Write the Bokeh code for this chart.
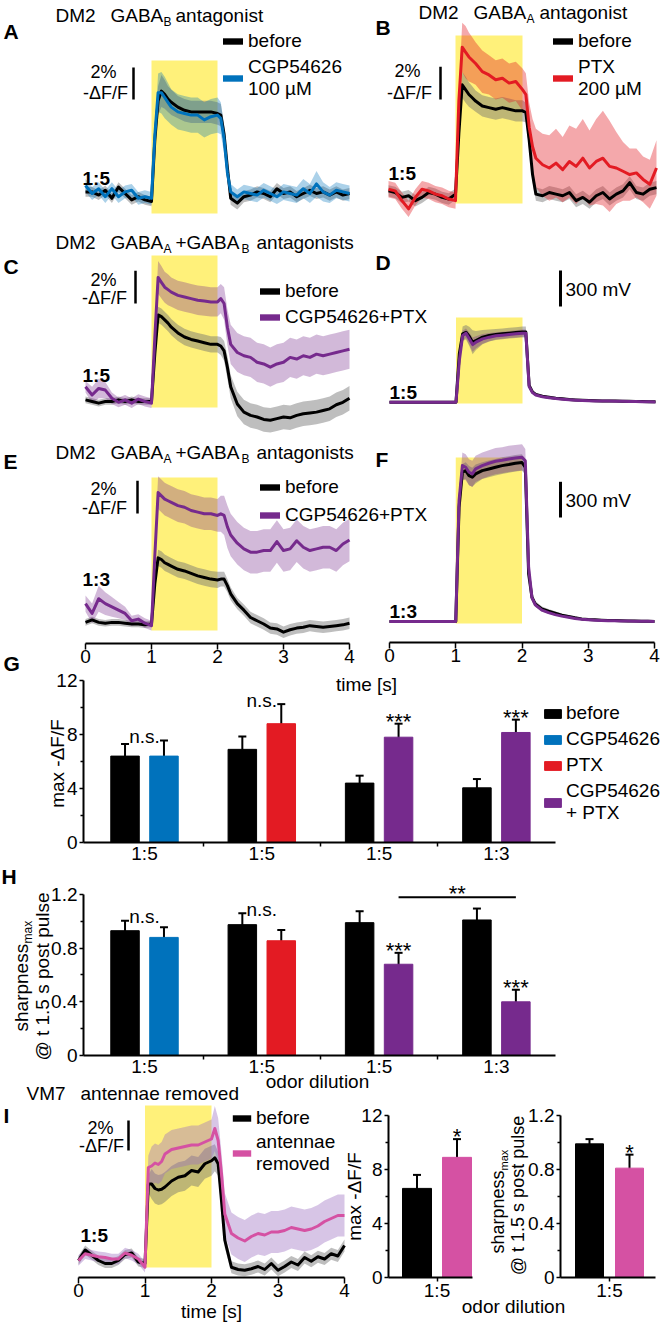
import math
from bokeh.plotting import figure
from bokeh.models import (Range1d, LinearAxis, FixedTicker, Label, Legend, LegendItem,
                          Whisker, TeeHead, ColumnDataSource)
from bokeh.embed import file_html
from bokeh.resources import INLINE

# ---------------------------------------------------------------- data
T = [0.0, 0.1, 0.2, 0.3, 0.4, 0.5, 0.6, 0.7, 0.8, 0.9, 1.0,
     1.05, 1.1, 1.15, 1.2, 1.25,
     1.3, 1.4, 1.5, 1.6, 1.7, 1.8, 1.9, 2.0,
     2.05, 2.1, 2.15, 2.2,
     2.3, 2.4, 2.5, 2.6, 2.7, 2.8, 2.9, 3.0, 3.1, 3.2, 3.3, 3.4, 3.5, 3.6, 3.7, 3.8, 3.9, 4.0]
STIM = [1.0, 2.0]            # odor pulse [s]
SCALE_DFF = 2.0              # scale bar, % -dF/F
SCALE_MV = 300               # scale bar, mV

# A: DM2, GABA_B antagonist (-dF/F, %)
A_BEFORE = [0.1, 0.1, -0.1, 0.2, -0.3, 0.4, 0.0, -0.4, -0.2, -0.4, -0.5,
            3.3, 5.8, 6.4, 6.2, 5.9,
            5.7, 5.4, 5.2, 5.1, 5.1, 5.1, 5.1, 5.0,
            4.9, 3.7, 1.6, -0.3,
            -0.6, -0.2, -0.1, 0.1, 0.0, -0.2, 0.3, 0.0, 0.1, -0.2, 0.0, 0.2, 0.0, 0.1, -0.1, 0.1, -0.1, 0.0]
A_BEFORE_SEM = [0.3, 0.3, 0.3, 0.3, 0.3, 0.3, 0.3, 0.3, 0.3, 0.3, 0.3,
                0.3, 0.9, 1.0, 0.9, 0.8,
                0.8, 0.7, 0.7, 0.7, 0.7, 0.7, 0.7, 0.7,
                0.7, 0.6, 0.5, 0.4,
                0.4, 0.35, 0.35, 0.35, 0.35, 0.35, 0.35, 0.35, 0.35, 0.35, 0.35, 0.35, 0.35, 0.35, 0.35, 0.35, 0.35, 0.35]
A_CGP = [0.5, 0.0, 0.3, -0.2, 0.3, -0.2, 0.1, 0.2, -0.3, -0.2, -0.3,
         3.6, 6.3, 6.3, 6.0, 5.7,
         5.4, 5.1, 5.0, 4.9, 4.9, 4.6, 4.8, 4.9,
         4.7, 3.4, 1.3, 0.1,
         -0.2, 0.1, 0.0, -0.1, 0.2, 0.0, -0.2, 0.1, 0.0, -0.1, 0.3, 0.0, 0.6, 0.1, -0.1, 0.2, 0.1, 0.0]
A_CGP_SEM = [0.4, 0.4, 0.4, 0.4, 0.4, 0.4, 0.4, 0.4, 0.4, 0.4, 0.4,
             0.4, 1.2, 1.3, 1.3, 1.2,
             1.1, 1.1, 1.1, 1.1, 1.1, 1.1, 1.1, 1.1,
             1.0, 0.9, 0.6, 0.5,
             0.45, 0.45, 0.45, 0.45, 0.45, 0.45, 0.45, 0.5, 0.5, 0.5, 0.6, 0.6, 0.8, 0.6, 0.5, 0.5, 0.5, 0.5]

# B: DM2, GABA_A antagonist
B_BEFORE = [0.1, 0.0, -0.3, -0.2, -0.5, -0.3, 0.0, -0.1, -0.3, -0.4, -0.1,
            3.6, 6.6, 6.3, 6.0, 5.8,
            5.6, 5.3, 5.2, 5.1, 5.2, 5.1, 5.0, 5.0,
            4.9, 3.2, 1.1, -0.1,
            -0.2, 0.0, -0.1, -0.2, 0.0, -0.5, -0.3, -0.6, -0.2, 0.0, -0.4, -0.1, 0.1, 0.6, 0.0, -0.1, 0.2, 0.3]
B_BEFORE_SEM = [0.35, 0.35, 0.35, 0.35, 0.35, 0.35, 0.35, 0.35, 0.35, 0.35, 0.35,
                0.35, 0.8, 0.8, 0.75, 0.7,
                0.65, 0.65, 0.65, 0.65, 0.65, 0.65, 0.65, 0.65,
                0.6, 0.5, 0.45, 0.4,
                0.4, 0.4, 0.4, 0.4, 0.4, 0.4, 0.4, 0.4, 0.4, 0.4, 0.4, 0.4, 0.4, 0.4, 0.4, 0.4, 0.4, 0.4]
B_PTX = [0.2, 0.1, -0.5, -1.0, -0.3, 0.2, 0.1, -0.1, -0.2, -0.4, -0.5,
         5.6, 8.9, 8.6, 8.3, 8.1,
         7.9, 7.4, 7.2, 6.9, 7.0, 6.7, 6.8, 6.3,
         6.0, 4.0, 2.8, 2.1,
         1.7, 1.5, 1.8, 1.4, 1.9, 1.6, 2.1, 1.5, 1.9, 2.1, 1.6, 1.5, 1.3, 1.1, 1.2, 0.8, 0.5, 1.5]
B_PTX_SEM = [0.5, 0.5, 0.5, 0.5, 0.5, 0.5, 0.5, 0.5, 0.5, 0.5, 0.5,
             0.6, 1.5, 1.6, 1.5, 1.4,
             1.3, 1.3, 1.2, 1.2, 1.2, 1.2, 1.2, 1.3,
             1.3, 1.5, 1.7, 1.8,
             1.9, 2.0, 2.1, 2.0, 2.2, 2.3, 2.4, 2.3, 2.6, 2.9, 2.8, 2.2, 1.8, 1.6, 1.5, 1.4, 1.5, 1.7]

# C: DM2, GABA_A + GABA_B antagonists, 1:5
C_BEFORE = [0.1, 0.0, -0.1, 0.0, 0.0, 0.1, 0.0, 0.1, 0.0, 0.0, 0.0,
            2.9, 5.3, 5.2, 5.0, 4.8,
            4.55, 4.2, 3.95, 3.8, 3.7, 3.6, 3.5, 3.5,
            3.4, 3.1, 2.1, 0.9,
            -0.15, -0.65, -0.85, -0.95, -1.1, -1.15, -1.05, -0.95, -1.0, -0.85, -0.75, -0.7, -0.65, -0.55, -0.45, -0.2, -0.05, 0.2]
C_BEFORE_SEM = [0.2, 0.2, 0.2, 0.2, 0.2, 0.2, 0.2, 0.2, 0.2, 0.2, 0.2,
                0.3, 0.5, 0.5, 0.5, 0.5,
                0.5, 0.5, 0.5, 0.5, 0.5, 0.5, 0.5, 0.5,
                0.55, 0.6, 0.7, 0.7,
                0.75, 0.75, 0.75, 0.75, 0.75, 0.75, 0.75, 0.75, 0.75, 0.75, 0.75, 0.75, 0.75, 0.75, 0.75, 0.75, 0.75, 0.75]
C_CGP_PTX = [0.9, 0.4, 0.8, 0.7, 0.2, -0.05, 0.1, -0.1, 0.15, 0.0, -0.1,
             3.9, 7.6, 7.3, 7.0, 6.85,
             6.7, 6.5, 6.4, 6.3, 6.2, 6.15, 6.1, 6.1,
             6.3, 6.0, 4.55, 3.5,
             3.0, 2.8, 2.7, 2.4, 2.3, 2.1, 2.3, 2.4, 2.7, 2.6, 2.8, 2.7, 2.9, 2.8, 2.9, 3.0, 3.1, 3.2]
C_CGP_PTX_SEM = [0.35, 0.5, 0.6, 0.5, 0.35, 0.3, 0.3, 0.3, 0.3, 0.3, 0.3,
                 0.5, 1.0, 1.0, 0.95, 0.95,
                 0.9, 0.9, 0.9, 0.9, 0.9, 0.9, 0.9, 0.9,
                 0.9, 1.0, 1.1, 1.2,
                 1.2, 1.2, 1.2, 1.2, 1.2, 1.2, 1.2, 1.2, 1.2, 1.2, 1.2, 1.2, 1.2, 1.2, 1.2, 1.2, 1.2, 1.2]

# D: (mV), 1:5
D_BEFORE = [0, 0, 0, 0, 0, 0, 0, 0, 0, 0, 0,
            403, 570, 583, 548, 500,
            514, 542, 556, 564, 570, 575, 580, 585,
            585, 140, 85, 65,
            50, 42, 33, 28, 22, 19, 17, 14, 12, 11, 10, 9, 8, 7, 6, 5, 4, 3]
D_BEFORE_SEM = [5, 5, 5, 5, 5, 5, 5, 5, 5, 5, 5,
                40, 60, 60, 80, 100,
                80, 60, 50, 45, 45, 45, 45, 45,
                45, 20, 12, 10,
                8, 8, 8, 8, 8, 8, 8, 8, 8, 8, 8, 8, 8, 8, 8, 8, 8, 8]
D_CGP_PTX = [0, 0, 0, 0, 0, 0, 0, 0, 0, 0, 0,
             347, 556, 575, 528, 480,
             500, 528, 542, 553, 558, 564, 570, 575,
             575, 130, 80, 60,
             45, 37, 30, 25, 20, 17, 15, 13, 11, 10, 9, 8, 7, 6, 5, 4, 3, 2]
D_CGP_PTX_SEM = [5, 5, 5, 5, 5, 5, 5, 5, 5, 5, 5,
                 30, 40, 40, 50, 60,
                 50, 40, 35, 30, 30, 30, 30, 30,
                 30, 15, 10, 8,
                 6, 6, 6, 6, 6, 6, 6, 6, 6, 6, 6, 6, 6, 6, 6, 6, 6, 6]

# E: DM2, GABA_A + GABA_B antagonists, 1:3
E_BEFORE = [0.05, 0.2, 0.05, 0.0, 0.05, 0.05, 0.0, -0.05, -0.05, -0.1, -0.05,
            2.4, 4.0, 3.9, 3.7, 3.6,
            3.5, 3.3, 3.2, 3.05, 2.9, 2.8, 2.7, 2.65,
            2.7, 2.7, 2.3, 1.8,
            1.2, 0.8, 0.35, 0.15, -0.05, -0.3, -0.35, -0.55, -0.4, -0.3, -0.25, -0.15, -0.2, -0.25, -0.2, -0.15, -0.1, 0.0]
E_BEFORE_SEM = [0.2, 0.2, 0.2, 0.2, 0.2, 0.2, 0.2, 0.2, 0.2, 0.2, 0.2,
                0.3, 0.5, 0.5, 0.5, 0.5,
                0.5, 0.5, 0.5, 0.5, 0.5, 0.5, 0.5, 0.5,
                0.45, 0.45, 0.4, 0.4,
                0.35, 0.35, 0.35, 0.35, 0.35, 0.35, 0.35, 0.35, 0.35, 0.35, 0.35, 0.35, 0.35, 0.35, 0.35, 0.35, 0.35, 0.35]
E_CGP_PTX = [1.2, 0.6, 1.5, 1.2, 1.0, 0.8, 0.6, 0.15, 0.25, 0.0, -0.15,
             4.1, 8.0, 7.8, 7.6, 7.5,
             7.4, 7.2, 7.1, 6.9, 6.8, 6.7, 6.7, 6.6,
             6.7, 6.6, 5.9, 5.4,
             4.9, 4.55, 4.35, 4.35, 4.45, 4.45, 5.0, 4.45, 4.55, 5.05, 4.65, 4.45, 4.55, 4.65, 4.65, 4.45, 4.85, 5.1]
E_CGP_PTX_SEM = [0.5, 0.6, 0.8, 0.7, 0.6, 0.5, 0.4, 0.3, 0.3, 0.3, 0.3,
                 0.6, 1.0, 1.0, 1.0, 1.0,
                 1.0, 1.0, 1.0, 1.0, 1.0, 1.0, 1.0, 1.0,
                 1.1, 1.2, 1.3, 1.3,
                 1.3, 1.3, 1.3, 1.3, 1.3, 1.3, 1.3, 1.3, 1.3, 1.3, 1.3, 1.3, 1.3, 1.3, 1.3, 1.3, 1.3, 1.3]

# F: (mV), 1:3
F_BEFORE = [0, 0, 0, 0, 0, 0, 0, 0, 0, 0, 0,
            960, 1254, 1268, 1226, 1212,
            1240, 1268, 1282, 1296, 1310, 1319, 1330, 1336,
            1296, 400, 204, 148,
            106, 87, 70, 53, 42, 31, 22, 17, 14, 11, 9, 8, 6, 5, 4, 3, 2, 1]
F_BEFORE_SEM = [5, 5, 5, 5, 5, 5, 5, 5, 5, 5, 5,
                60, 70, 70, 80, 80,
                80, 70, 70, 70, 70, 70, 70, 70,
                60, 40, 30, 25,
                20, 18, 16, 14, 12, 10, 8, 7, 6, 5, 5, 4, 4, 4, 3, 3, 3, 3]
F_CGP_PTX = [0, 0, 0, 0, 0, 0, 0, 0, 0, 0, 0,
             1016, 1310, 1296, 1254, 1240,
             1282, 1310, 1330, 1347, 1355, 1366, 1373, 1380,
             1350, 456, 200, 140,
             95, 75, 58, 45, 35, 25, 18, 14, 11, 9, 7, 6, 5, 4, 3, 2, 2, 1]
F_CGP_PTX_SEM = [5, 5, 5, 5, 5, 5, 5, 5, 5, 5, 5,
                 80, 110, 110, 110, 110,
                 110, 110, 110, 110, 110, 110, 110, 110,
                 100, 40, 20, 15,
                 12, 10, 8, 6, 5, 5, 4, 4, 3, 3, 3, 3, 3, 3, 3, 3, 3, 3]

# I: VM7, antennae removed
I_BEFORE = [0.0, 0.7, 0.35, 0.0, -0.2, -0.2, 0.0, 0.4, 0.5, -0.1, -0.2,
            5.1, 5.1, 4.8, 4.7, 4.75,
            4.9, 5.3, 5.55, 5.65, 6.0, 5.9, 6.45, 6.65,
            6.85, 6.45, 4.0, 1.35,
            -0.45, -0.6, -0.65, -0.55, -0.4, -0.6, -0.2, -0.65, -0.4, -0.1, -0.3, 0.2, -0.05, 0.25, 0.1, 0.45, 0.3, 1.0]
I_BEFORE_SEM = [0.3, 0.3, 0.3, 0.3, 0.3, 0.3, 0.3, 0.3, 0.3, 0.3, 0.3,
                0.6, 1.0, 1.0, 1.0, 1.0,
                1.0, 1.0, 1.0, 1.0, 1.0, 1.0, 1.0, 1.0,
                0.9, 0.8, 0.6, 0.5,
                0.4, 0.4, 0.4, 0.4, 0.4, 0.4, 0.4, 0.4, 0.4, 0.4, 0.4, 0.4, 0.4, 0.4, 0.4, 0.4, 0.4, 0.4]
I_REMOVED = [0.0, 0.45, 0.35, 0.25, 0.2, 0.1, 0.1, 0.5, 0.35, 0.1, -0.45,
             6.2, 6.3, 6.5, 6.4, 6.6,
             7.1, 7.4, 7.5, 7.6, 7.7, 7.7, 7.9, 8.1,
             8.8, 8.0, 5.8, 3.1,
             1.8, 1.5, 1.3, 1.6, 1.8, 1.7, 1.9, 1.9, 2.0, 2.2, 2.1, 2.0, 2.1, 2.3, 2.6, 2.8, 3.0, 3.0]
I_REMOVED_SEM = [0.35, 0.35, 0.35, 0.35, 0.35, 0.35, 0.35, 0.35, 0.35, 0.35, 0.35,
                 0.8, 1.3, 1.3, 1.3, 1.3,
                 1.3, 1.3, 1.3, 1.3, 1.3, 1.3, 1.3, 1.3,
                 1.5, 1.5, 1.4, 1.4,
                 1.4, 1.4, 1.4, 1.4, 1.4, 1.4, 1.4, 1.4, 1.4, 1.4, 1.4, 1.4, 1.4, 1.4, 1.4, 1.4, 1.4, 1.4]

# G / H bar charts
GROUP_LABELS = ["1:5", "1:5", "1:5", "1:3"]
GROUP_TREAT = ["CGP54626", "PTX", "CGP54626\n+ PTX", "CGP54626\n+ PTX"]
G_BEFORE = [6.4, 6.9, 4.4, 4.05]
G_BEFORE_ERR = [0.9, 0.95, 0.55, 0.65]
G_DRUG = [6.4, 8.8, 7.8, 8.15]
G_DRUG_ERR = [1.15, 1.45, 1.0, 0.95]
G_SIG = ["n.s.", "n.s.", "***", "***"]
H_BEFORE = [0.93, 0.975, 0.99, 1.01]
H_BEFORE_ERR = [0.075, 0.085, 0.085, 0.085]
H_DRUG = [0.88, 0.855, 0.68, 0.40]
H_DRUG_ERR = [0.075, 0.08, 0.085, 0.09]
H_SIG = ["n.s.", "n.s.", "***", "***"]
H_BRACKET_SIG = "**"
H_BRACKET_LEVEL = 1.18

# I bar charts (before, antennae removed)
I_GROUP = ["1:5"]
I_MAX = [6.6, 8.9]
I_MAX_ERR = [1.0, 1.35]
I_SHARP = [0.99, 0.81]
I_SHARP_ERR = [0.035, 0.10]
I_SIG = "*"

# ---------------------------------------------------------------- style
FONT = "Liberation Sans"
BLACK = "#000000"
BLUE = "#0072BC"
RED = "#E31B23"
PURPLE = "#762A8D"
PINK = "#D551A3"
LAVENDER = "#9B6FC0"
YELLOW = "#FFF17A"
GREY = "#6E6E6E"
TREAT_COLOR = {"CGP54626": BLUE, "PTX": RED, "CGP54626\n+ PTX": PURPLE}
NAN = float("nan")
AST_SIZE = 22

W, H = 664, 1324
OX, OY = 0, 0

p = figure(width=W, height=H, x_range=Range1d(OX, OX + W), y_range=Range1d(OY + H, OY),
           output_backend="svg", toolbar_location=None, min_border=0,
           x_axis_type=None, y_axis_type=None, outline_line_color=None)

PANELS = {}


def panel(name, px0, vx, kx, py0, vy, ky):
    PANELS[name] = (px0, vx, kx, py0, vy, ky)
    xs = vx - (px0 - OX) / kx
    ys = vy - (OY + H - py0) / ky
    p.extra_x_ranges[name] = Range1d(xs, xs + W / kx)
    p.extra_y_ranges[name] = Range1d(ys, ys + H / ky)


def dx(name, px):
    px0, vx, kx, _, _, _ = PANELS[name]
    return vx + (px - px0) / kx


def dy(name, py):
    _, _, _, py0, vy, ky = PANELS[name]
    return vy + (py0 - py) / ky


def pxx(name, v):
    px0, vx, kx, _, _, _ = PANELS[name]
    return px0 + (v - vx) * kx


def pyy(name, v):
    _, _, _, py0, vy, ky = PANELS[name]
    return py0 - (v - vy) * ky


panel("A", 85, 0, 66, 193, 0, 16)
panel("B", 388, 0, 67, 192, 0, 16.33)
panel("C", 85, 0, 66, 401, 0, 16.33)
panel("D", 389, 0, 66.5, 401.7, 0, 0.12)
panel("E", 85, 0, 66, 622.7, 0, 16.33)
panel("F", 389, 0, 66.25, 621, 0, 0.119)
panel("G", 144, 1, 117.3, 842, 0, 13.5)
panel("H", 144, 1, 117.3, 1055, 0, 134.2)
panel("I", 78, 0, 66.5, 1260, 0, 15)
panel("I1", 436.5, 1, 100, 1277, 0, 13.5)
panel("I2", 609, 1, 100, 1277, 0, 135)


def lab(text, x, y, size=19, align="left", baseline="middle", bold=False, angle=0.0):
    p.add_layout(Label(x=x, y=y, text=text, text_font=FONT, text_font_size=f"{size}px",
                       text_align=align, text_baseline=baseline, angle=angle,
                       text_font_style="bold" if bold else "normal", text_color="black"))


def traces(name, stim_top, stim_bot, series):
    p.quad(left=[STIM[0]], right=[STIM[1]], top=[dy(name, stim_top)], bottom=[dy(name, stim_bot)],
           fill_color=YELLOW, line_color=None, x_range_name=name, y_range_name=name)
    for vals, sem, col, bcol, balpha in series:
        p.varea(x=T, y1=[v - s for v, s in zip(vals, sem)], y2=[v + s for v, s in zip(vals, sem)],
                fill_color=bcol, fill_alpha=balpha, x_range_name=name, y_range_name=name)
    for vals, sem, col, bcol, balpha in series:
        p.line(T, vals, line_color=col, line_width=3, line_join="round",
               x_range_name=name, y_range_name=name)


def scalebar(name, px, py_bottom, length, width=2.5):
    x = dx(name, px)
    y0 = dy(name, py_bottom)
    p.segment(x0=[x], y0=[y0], x1=[x], y1=[y0 + length], line_color="black", line_width=width,
              x_range_name=name, y_range_name=name)


def legend(items, left, top, heights, gw, gh, spacing, renderers=None):
    total = sum(heights) + spacing * (len(heights) - 1)
    bottom = top + total
    li = []
    for i, (label, color) in enumerate(items):
        if renderers is None:
            # legend-only proxy (no visible mark)
            r = p.quad(left=[NAN], right=[NAN], top=[NAN], bottom=[NAN], fill_color=color,
                       line_color=None)
        else:
            r = renderers[i]
        li.append(LegendItem(label=label, renderers=[r]))
    leg = Legend(items=li, location=(left - OX, OY + H - bottom), padding=0, margin=0,
                 spacing=spacing, glyph_width=gw, glyph_height=gh, label_standoff=3,
                 border_line_color=None, background_fill_alpha=0,
                 label_text_font=FONT, label_text_font_size="19px", label_text_color="black")
    p.add_layout(leg)


def add_axis(name, side, loc, bounds, ticks, minor=(), overrides=None, tick_out=5,
             minor_out=4, standoff=1, size=19):
    ax = LinearAxis(x_range_name=name, y_range_name=name, fixed_location=loc, bounds=bounds,
                    ticker=FixedTicker(ticks=list(ticks), minor_ticks=list(minor)))
    ax.axis_line_width = 2
    ax.axis_line_color = "black"
    ax.major_tick_line_width = 1.5
    ax.major_tick_in = 0
    ax.major_tick_out = tick_out
    ax.minor_tick_line_width = 1.5
    ax.minor_tick_in = 0
    ax.minor_tick_out = minor_out
    ax.major_label_text_font = FONT
    ax.major_label_text_font_size = f"{size}px"
    ax.major_label_text_color = "black"
    ax.major_label_standoff = standoff
    if overrides:
        ax.major_label_overrides = overrides
    p.add_layout(ax, side)


def gaba_title(y, x_dm2, x_gaba, sub1, x_sub1, rest):
    lab("DM2", x_dm2, y)
    lab("GABA", x_gaba, y)
    lab(sub1, x_sub1, y + 6, size=12)
    for text, x, is_sub in rest:
        if is_sub:
            lab(text, x, y + 6, size=12)
        else:
            lab(text, x, y)


def stars(text, x, err_top_px):
    lab(text, x, err_top_px - 2.5, size=AST_SIZE, align="center", baseline="alphabetic")


# ---------------------------------------------------------------- A
traces("A", 60, 213, [(A_BEFORE, A_BEFORE_SEM, BLACK, GREY, 0.45),
                      (A_CGP, A_CGP_SEM, BLUE, BLUE, 0.33)])
scalebar("A", 133, 99, SCALE_DFF)
lab("A", 3, 31, size=21, bold=True)
gaba_title(15, 55, 110, "B", 163, [("antagonist", 175, False)])
lab("2%", 103, 71, size=18, align="center")
lab("-ΔF/F", 105, 92, size=18, align="center")
lab("1:5", 82, 178, bold=True)
legend([("before", BLACK), ("CGP54626\n100 µM", BLUE)], 220, 29.5, [22, 44], 25, 8, 4)

# ---------------------------------------------------------------- B
traces("B", 35, 203, [(B_BEFORE, B_BEFORE_SEM, BLACK, GREY, 0.45),
                      (B_PTX, B_PTX_SEM, RED, RED, 0.38)])
scalebar("B", 440, 99, SCALE_DFF)
lab("B", 375, 27, size=21, bold=True)
gaba_title(12, 418, 473, "A", 526, [("antagonist", 539, False)])
lab("2%", 407, 70, size=18, align="center")
lab("-ΔF/F", 409, 92, size=18, align="center")
lab("1:5", 388, 173, bold=True)
legend([("before", BLACK), ("PTX\n200 µM", RED)], 550, 29.5, [22, 44], 25, 8, 4)

# ---------------------------------------------------------------- C
traces("C", 255, 407, [(C_BEFORE, C_BEFORE_SEM, BLACK, GREY, 0.45),
                       (C_CGP_PTX, C_CGP_PTX_SEM, PURPLE, PURPLE, 0.33)])
scalebar("C", 135, 303, SCALE_DFF)
lab("C", 3, 266, size=21, bold=True)
gaba_title(242, 55, 110, "A", 163, [("+GABA", 175, False), ("B", 241, True), ("antagonists", 256, False)])
lab("2%", 103, 279, size=18, align="center")
lab("-ΔF/F", 104, 297, size=18, align="center")
lab("1:5", 82, 375, bold=True)
legend([("before", BLACK), ("CGP54626+PTX", PURPLE)], 257, 280, [22, 22], 25, 8, 4)

# ---------------------------------------------------------------- D
traces("D", 317, 403, [(D_BEFORE, D_BEFORE_SEM, BLACK, GREY, 0.45),
                       (D_CGP_PTX, D_CGP_PTX_SEM, PURPLE, PURPLE, 0.33)])
scalebar("D", 560, 306, SCALE_MV, width=3)
lab("D", 375, 262, size=21, bold=True)
lab("300 mV", 565, 289)
lab("1:5", 389, 392, bold=True)

# ---------------------------------------------------------------- E
traces("E", 477, 630, [(E_BEFORE, E_BEFORE_SEM, BLACK, GREY, 0.45),
                       (E_CGP_PTX, E_CGP_PTX_SEM, PURPLE, PURPLE, 0.33)])
scalebar("E", 137, 513, SCALE_DFF)
lab("E", 3, 461, size=21, bold=True)
gaba_title(452, 55, 110, "A", 163, [("+GABA", 175, False), ("B", 241, True), ("antagonists", 256, False)])
lab("2%", 103, 488, size=18, align="center")
lab("-ΔF/F", 104, 507, size=18, align="center")
lab("1:3", 82, 579, bold=True)
legend([("before", BLACK), ("CGP54626+PTX", PURPLE)], 257, 476, [22, 22], 25, 8, 6)
add_axis("E", "below", dy("E", 643), (0, 4), [0, 1, 2, 3, 4], tick_out=6, standoff=0)

# ---------------------------------------------------------------- F
traces("F", 457, 623, [(F_BEFORE, F_BEFORE_SEM, BLACK, GREY, 0.45),
                       (F_CGP_PTX, F_CGP_PTX_SEM, PURPLE, PURPLE, 0.33)])
scalebar("F", 560, 517, SCALE_MV, width=3)
lab("F", 375, 459, size=21, bold=True)
lab("300 mV", 565, 500)
lab("1:3", 389, 611, bold=True)
add_axis("F", "below", dy("F", 642), (0, 4), [0, 1, 2, 3, 4], tick_out=6, standoff=0)
lab("time [s]", 366, 684, align="center")

# ---------------------------------------------------------------- G / H
GX = [1, 2, 3, 4]
OFF = 0.166
BW = 0.243


def bar_panel(name, before, before_err, drug, drug_err, sig):
    xb = [g - OFF for g in GX]
    xd = [g + OFF for g in GX]
    rb = p.vbar(x=xb, top=before, width=BW, bottom=0, fill_color=BLACK, line_color=BLACK,
                x_range_name=name, y_range_name=name)
    rend = {}
    for treat in ["CGP54626", "PTX", "CGP54626\n+ PTX"]:
        idx = [i for i, t in enumerate(GROUP_TREAT) if t == treat]
        rend[treat] = p.vbar(x=[xd[i] for i in idx], top=[drug[i] for i in idx], width=BW, bottom=0,
                             fill_color=TREAT_COLOR[treat], line_color=TREAT_COLOR[treat],
                             x_range_name=name, y_range_name=name)
    src = ColumnDataSource(dict(base=xb + xd,
                                upper=[v + e for v, e in zip(before + drug, before_err + drug_err)],
                                lower=[v - e for v, e in zip(before + drug, before_err + drug_err)]))
    p.add_layout(Whisker(source=src, base="base", upper="upper", lower="lower", dimension="height",
                         line_color="black", line_width=2,
                         upper_head=TeeHead(size=8, line_width=2, line_color="black"),
                         lower_head=TeeHead(size=8, line_width=2, line_color="black"),
                         x_range_name=name, y_range_name=name))
    for i, s in enumerate(sig):
        if s == "n.s.":
            top = max(before[i] + before_err[i], drug[i] + drug_err[i])
            lab(s, pxx(name, GX[i]), pyy(name, top) - 4, align="center", baseline="alphabetic")
        else:
            stars(s, pxx(name, xd[i]), pyy(name, drug[i] + drug_err[i]))
    x0 = dx(name, 83)
    x1 = dx(name, 555)
    add_axis(name, "below", 0, (x0, x1), GX, minor=[1.5, 2.5, 3.5],
             overrides={g: lbl for g, lbl in zip(GX, GROUP_LABELS)}, tick_out=0, minor_out=4,
             standoff=-4)
    return rb, rend


rbG, rendG = bar_panel("G", G_BEFORE, G_BEFORE_ERR, G_DRUG, G_DRUG_ERR, G_SIG)
add_axis("G", "left", dx("G", 83), (0, 12), [0, 4, 8, 12], minor=[2, 6, 10], tick_out=4,
         minor_out=3, standoff=2)
lab("G", 3, 663, size=21, bold=True)
lab("max -ΔF/F", 57, 763, align="center", angle=math.pi / 2)
legend([("before", BLACK), ("CGP54626", BLUE), ("PTX", RED), ("CGP54626\n+ PTX", PURPLE)],
       542, 702, [22, 22, 22, 44], 21, 11, 4,
       renderers=[rbG, rendG["CGP54626"], rendG["PTX"], rendG["CGP54626\n+ PTX"]])

rbH, rendH = bar_panel("H", H_BEFORE, H_BEFORE_ERR, H_DRUG, H_DRUG_ERR, H_SIG)
add_axis("H", "left", dx("H", 83), (0, 1.2), [0, 0.4, 0.8, 1.2], minor=[0.2, 0.6, 1.0],
         overrides={0: "0", 0.4: "0.4", 0.8: "0.8", 1.2: "1.2"}, tick_out=4, minor_out=3, standoff=2)
p.segment(x0=[GX[2] + OFF], y0=[H_BRACKET_LEVEL], x1=[GX[3] + OFF], y1=[H_BRACKET_LEVEL],
          line_color="black", line_width=2, x_range_name="H", y_range_name="H")
lab(H_BRACKET_SIG, pxx("H", (GX[2] + GX[3]) / 2 + OFF), pyy("H", H_BRACKET_LEVEL) - 3.5,
    size=AST_SIZE, align="center", baseline="alphabetic")
lab("H", 1, 876, size=21, bold=True)
lab("sharpness", 21, 1031, align="left", angle=math.pi / 2)
lab("max", 27, 943, size=12, align="left", angle=math.pi / 2)
lab("@ t 1.5 s post pulse", 42, 976, align="center", angle=math.pi / 2)
lab("odor dilution", 317, 1081, align="center")

# ---------------------------------------------------------------- I traces
traces("I", 1105, 1267, [(I_BEFORE, I_BEFORE_SEM, BLACK, GREY, 0.45),
                         (I_REMOVED, I_REMOVED_SEM, PINK, LAVENDER, 0.4)])
scalebar("I", 128, 1150, SCALE_DFF)
lab("I", 3, 1115, size=21, bold=True)
lab("VM7", 26, 1093)
lab("antennae removed", 80, 1093)
lab("2%", 100, 1127, size=18, align="center")
lab("-ΔF/F", 101, 1145, size=18, align="center")
lab("1:5", 80, 1235, bold=True)
legend([("before", BLACK), ("antennae\nremoved", PINK)], 230, 1107, [22, 44], 23, 8, 2)
add_axis("I", "below", dy("I", 1277), (0, 4), [0, 1, 2, 3, 4], tick_out=6, standoff=0)
lab("time [s]", 211, 1311, align="center")

# ---------------------------------------------------------------- I bar charts
IOFF = 0.2


def small_bars(name, vals, errs, bw, axis_px0, axis_px1, yticks, yminor, overrides):
    xs = [1 - IOFF, 1 + IOFF]
    p.vbar(x=[xs[0]], top=[vals[0]], width=bw, bottom=0, fill_color=BLACK, line_color=BLACK,
           x_range_name=name, y_range_name=name)
    p.vbar(x=[xs[1]], top=[vals[1]], width=bw, bottom=0, fill_color=PINK, line_color=PINK,
           x_range_name=name, y_range_name=name)
    src = ColumnDataSource(dict(base=xs, upper=[v + e for v, e in zip(vals, errs)],
                                lower=[v - e for v, e in zip(vals, errs)]))
    p.add_layout(Whisker(source=src, base="base", upper="upper", lower="lower", dimension="height",
                         line_color="black", line_width=2,
                         upper_head=TeeHead(size=8, line_width=2, line_color="black"),
                         lower_head=TeeHead(size=8, line_width=2, line_color="black"),
                         x_range_name=name, y_range_name=name))
    stars(I_SIG, pxx(name, xs[1]), pyy(name, vals[1] + errs[1]))
    add_axis(name, "below", 0, (dx(name, axis_px0), dx(name, axis_px1)), [1],
             overrides={1: I_GROUP[0]}, tick_out=4, standoff=-2)
    add_axis(name, "left", dx(name, axis_px0), (yticks[0], yticks[-1]), yticks, minor=yminor,
             overrides=overrides, tick_out=4, minor_out=3, standoff=2)


small_bars("I1", I_MAX, I_MAX_ERR, 0.29, 388, 472, [0, 4, 8, 12], [2, 6, 10], None)
small_bars("I2", I_SHARP, I_SHARP_ERR, 0.28, 560, 655, [0, 0.4, 0.8, 1.2], [0.2, 0.6, 1.0],
           {0: "0", 0.4: "0.4", 0.8: "0.8", 1.2: "1.2"})
lab("max -ΔF/F", 354, 1196, align="center", angle=math.pi / 2)
lab("sharpness", 497, 1253, size=18, align="left", angle=math.pi / 2)
lab("max", 503, 1170, size=11, align="left", angle=math.pi / 2)
lab("@ t 1.5 s post pulse", 517, 1195, size=18, align="center", angle=math.pi / 2)
lab("odor dilution", 513, 1306, align="center")

open("out.html", "w").write(file_html(p, INLINE))
